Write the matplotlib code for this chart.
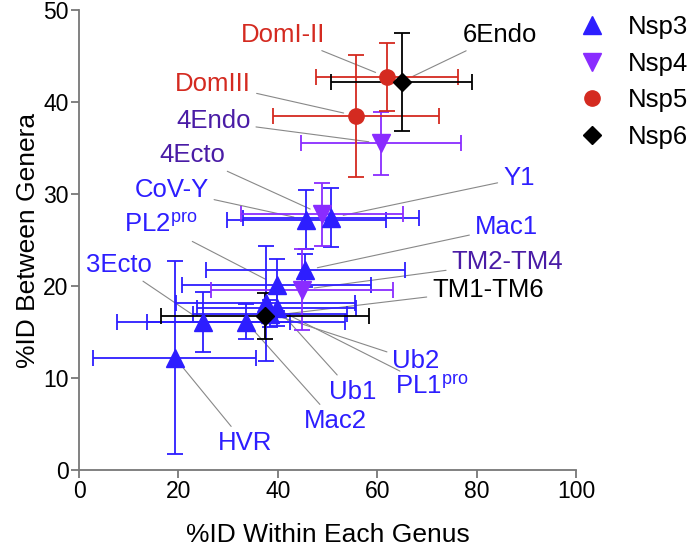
import matplotlib
matplotlib.use('Agg')
import matplotlib.pyplot as plt

plt.rcParams['font.family'] = ['Liberation Sans', 'DejaVu Sans']
plt.rcParams['mathtext.default'] = 'regular'

# Nsp3
names3 = ['HVR', '3Ecto', 'Mac2', 'PL2$^{pro}$', 'Ub1', 'PL1$^{pro}$', 'Ub2', 'Mac1', 'CoV-Y', 'Y1']
x3 = [19.3, 25.0, 33.6, 39.8, 39.8, 37.6, 38.5, 45.5, 45.7, 50.7]
y3 = [12.2, 16.1, 16.1, 20.1, 17.6, 18.1, 17.0, 21.7, 27.2, 27.4]
xerr3 = [16.4, 17.4, 20.0, 19.0, 16.0, 18.0, 15.5, 20.0, 16.0, 17.8]
yerr3 = [10.5, 3.3, 1.9, 2.8, 2.0, 6.3, 1.5, 1.8, 3.2, 3.2]

# Nsp4
names4 = ['4Endo', '4Ecto', 'TM2-TM4']
x4 = [60.8, 48.8, 44.8]
y4 = [35.5, 27.8, 19.6]
xerr4 = [16.1, 16.3, 18.3]
yerr4 = [3.4, 3.4, 4.4]

# Nsp5
names5 = ['DomI-II', 'DomIII']
x5 = [62.0, 55.7]
y5 = [42.7, 38.5]
xerr5 = [14.3, 16.7]
yerr5 = [3.7, 6.6]

# Nsp6
names6 = ['6Endo', 'TM1-TM6']
x6 = [64.9, 37.4]
y6 = [42.2, 16.7]
xerr6 = [14.2, 21.0]
yerr6 = [5.3, 2.5]

# where each label text sits
label_pos = {
    'HVR': (33.4, 2.9), '3Ecto': (8.0, 22.3), 'Mac2': (51.5, 5.3),
    'PL2$^{pro}$': (16.5, 26.6), 'Ub1': (55.0, 8.5), 'PL1$^{pro}$': (71.0, 9.0),
    'Ub2': (67.8, 11.8), 'Mac1': (86.0, 26.4), 'CoV-Y': (18.6, 30.4), 'Y1': (88.5, 31.7),
    '4Endo': (27.0, 37.9), '4Ecto': (22.8, 34.2), 'TM2-TM4': (86.2, 22.6),
    'DomI-II': (41.0, 47.3), 'DomIII': (27.0, 42.0),
    '6Endo': (84.6, 47.3), 'TM1-TM6': (82.3, 19.6),
}

groups = [
    ('Nsp3', names3, x3, y3, xerr3, yerr3, '^', 13, '#2d1eff', '#2d1eff'),
    ('Nsp4', names4, x4, y4, xerr4, yerr4, 'v', 13, '#8a2cff', '#4a1ca6'),
    ('Nsp5', names5, x5, y5, xerr5, yerr5, 'o', 11, '#d42a20', '#d42a20'),
    ('Nsp6', names6, x6, y6, xerr6, yerr6, 'D', 9.5, 'black', 'black'),
]

fig = plt.figure(figsize=(6.89, 5.48), dpi=100)
ax = fig.add_axes([0.1147, 0.1423, 0.7213, 0.8395])

handles = []
for lab, names, xs, ys, xe, ye, mk, ms, col, tcol in groups:
    ax.errorbar(xs, ys, xerr=xe, yerr=ye, fmt=mk, ms=ms, color=col,
                ecolor=col, elinewidth=1.3, capsize=6, capthick=1.3,
                label=lab, zorder=3)
    handles.append(plt.Line2D([], [], ls='none', marker=mk, ms=ms, color=col))
    for n, xv, yv in zip(names, xs, ys):
        ax.annotate(n, xy=(xv, yv), xytext=label_pos[n], color=tcol,
                    fontsize=18.5, ha='center', va='center',
                    arrowprops=dict(arrowstyle='-', color='#888888', lw=0.8,
                                    shrinkA=2, shrinkB=9), zorder=2)

ax.set_xlim(0, 100)
ax.set_ylim(0, 50)
ax.set_xticks([0, 20, 40, 60, 80, 100])
ax.set_yticks([0, 10, 20, 30, 40, 50])
for s in ['top', 'right']:
    ax.spines[s].set_visible(False)
for s in ['left', 'bottom']:
    ax.spines[s].set_color('#777777')
    ax.spines[s].set_linewidth(1.3)
ax.tick_params(colors='#777777', labelcolor='black', labelsize=16.5,
               length=5.5, width=1.3, pad=2)
ax.set_xlabel('%ID Within Each Genus', fontsize=19, labelpad=14)
ax.set_ylabel('%ID Between Genera', fontsize=19, labelpad=2)

fig.legend(handles, ['Nsp3', 'Nsp4', 'Nsp5', 'Nsp6'], loc='upper left',
           bbox_to_anchor=(0.822, 0.992), borderaxespad=0, frameon=False,
           fontsize=18.5, handletextpad=0.8, labelspacing=0.5,
           handlelength=1.2)

fig.savefig('out.png', dpi=100)
